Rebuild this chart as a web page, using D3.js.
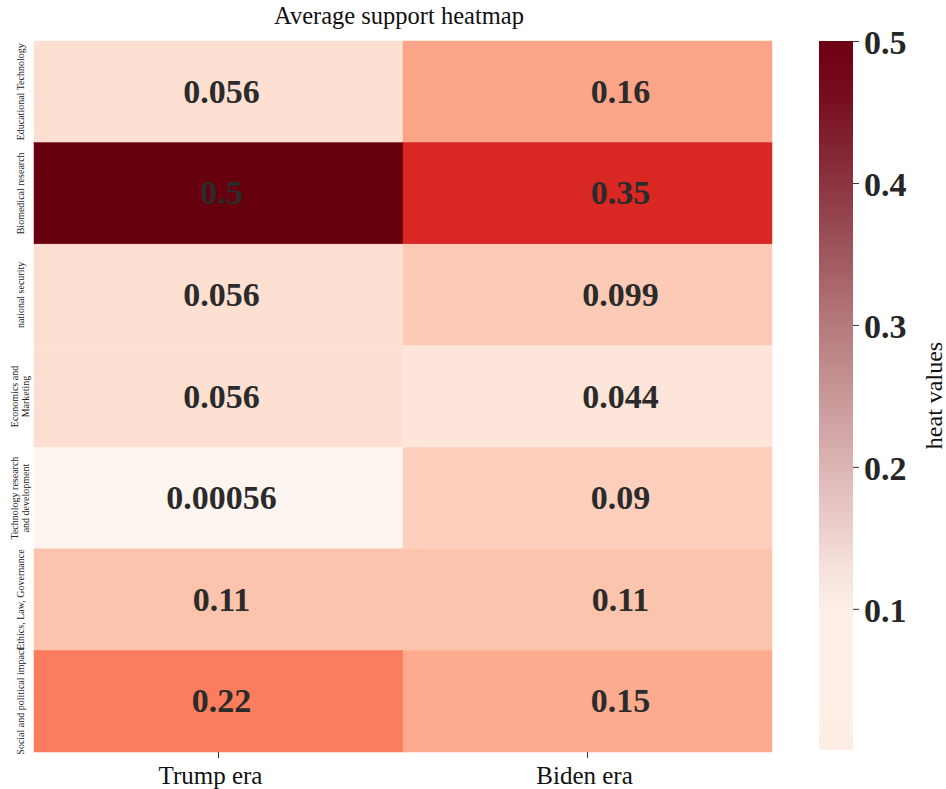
<!DOCTYPE html>
<html lang="en">
<head>
  <meta charset="UTF-8">
  <title>Average support heatmap</title>
  <script src="https://d3js.org/d3.v7.min.js"></script>
  <style>
    body { margin: 0; background: #fff; }
    svg text { font-family: "Liberation Serif", "Times New Roman", serif; }
  </style>
</head>
<body>
  <div id="chart"></div>
  <script>
    const rows = [
      "Educational Technology",
      "Biomedical research",
      "national security",
      "Economics and Marketing",
      "Technology research and development",
      "Ethics, Law, Governance",
      "Social and political impact"
    ];
    // how each row label is wrapped into lines
    const rowLines = [
      ["Educational Technology"],
      ["Biomedical research"],
      ["national security"],
      ["Economics and", "Marketing"],
      ["Technology research", "and development"],
      ["Ethics, Law, Governance"],
      ["Social and political impact"]
    ];
    const eras = ["Trump era", "Biden era"];
    const trump = [0.056, 0.5, 0.056, 0.056, 0.00056, 0.11, 0.22];
    const biden = [0.16, 0.35, 0.099, 0.044, 0.09, 0.11, 0.15];
    const labelsTrump = ["0.056", "0.5", "0.056", "0.056", "0.00056", "0.11", "0.22"];
    const labelsBiden = ["0.16", "0.35", "0.099", "0.044", "0.09", "0.11", "0.15"];
    const barTicks = [0.1, 0.2, 0.3, 0.4, 0.5];

    const width = 946, height = 789;
    const margin = { top: 41, left: 34, right: 174, bottom: 37 };
    // the annotations sit a bit right of the column centres in the original
    const annShift = { "Trump era": 3, "Biden era": 33 };
    const labShift = { "Trump era": -8, "Biden era": -3 };

    const cells = [];
    rows.forEach((r, i) => {
      cells.push({ row: r, era: eras[0], v: trump[i], label: labelsTrump[i] });
      cells.push({ row: r, era: eras[1], v: biden[i], label: labelsBiden[i] });
    });
    const vmin = d3.min(cells, d => d.v), vmax = d3.max(cells, d => d.v);

    const svg = d3.select("#chart").append("svg")
      .attr("width", width).attr("height", height);

    const x = d3.scaleBand().domain(eras).range([margin.left, width - margin.right]);
    const y = d3.scaleBand().domain(rows).range([margin.top, height - margin.bottom]);
    const color = d3.scaleSequential(d3.interpolateReds).domain([vmin, vmax]);

    svg.selectAll("rect.cell")
      .data(cells)
      .enter()
      .append("rect")
      .attr("class", "cell")
      .attr("x", d => x(d.era))
      .attr("y", d => y(d.row))
      .attr("width", x.bandwidth())
      .attr("height", y.bandwidth())
      .attr("fill", d => color(d.v))
      .attr("stroke", d => color(d.v))
      .attr("stroke-width", 0.5);

    svg.selectAll("text.val")
      .data(cells)
      .enter()
      .append("text")
      .attr("class", "val")
      .attr("x", d => x(d.era) + x.bandwidth() / 2 + annShift[d.era])
      .attr("y", d => y(d.row) + y.bandwidth() / 2 + 11)
      .attr("text-anchor", "middle")
      .attr("font-size", "34px")
      .attr("font-weight", "bold")
      .style("fill", "#2b2b2b")
      .text(d => d.label);

    // x axis
    const xAxis = svg.append("g")
      .attr("transform", `translate(0, ${height - margin.bottom})`)
      .call(d3.axisBottom(x).tickSize(6).tickPadding(0));
    xAxis.select(".domain").remove();
    xAxis.selectAll("line").attr("stroke", "#333");
    xAxis.selectAll("text")
      .attr("font-size", "25px")
      .attr("dy", null)
      .attr("y", 32)
      .attr("x", d => labShift[d])
      .style("fill", "#111");

    // y axis labels (rotated)
    rows.forEach((r, i) => {
      const lines = rowLines[i];
      const cy = y(r) + y.bandwidth() / 2;
      const t = svg.append("text")
        .attr("transform", `translate(${lines.length > 1 ? 18 : 24}, ${cy}) rotate(-90)`)
        .attr("text-anchor", "middle")
        .attr("font-size", "10px")
        .style("fill", "#222");
      lines.forEach((l, j) => {
        t.append("tspan").attr("x", 0).attr("dy", j === 0 ? 0 : 10.5).text(l);
      });
    });

    // title
    svg.append("text")
      .attr("x", (margin.left + width - margin.right) / 2 - 4)
      .attr("y", 24)
      .attr("text-anchor", "middle")
      .attr("font-size", "24.5px")
      .style("fill", "#111")
      .text("Average support heatmap");

    // colorbar
    const cbX = 819, cbW = 34;
    const cbY = d3.scaleLinear().domain([vmin, vmax]).range([750, margin.top]);
    const cbStops = [
      [0, "#fdeee5"], [0.2, "#fdefe8"], [0.26, "#f5e0dc"], [0.4, "#dcb4b4"],
      [0.6, "#b47a7c"], [0.8, "#8b3441"], [0.92, "#770d1d"], [1, "#6e0013"]
    ];
    const grad = svg.append("defs").append("linearGradient")
      .attr("id", "cb").attr("x1", 0).attr("y1", 1).attr("x2", 0).attr("y2", 0);
    cbStops.forEach(s => grad.append("stop").attr("offset", s[0]).attr("stop-color", s[1]));
    svg.append("rect")
      .attr("x", cbX).attr("y", cbY(vmax))
      .attr("width", cbW).attr("height", cbY(vmin) - cbY(vmax))
      .attr("fill", "url(#cb)");

    const cbAxis = svg.append("g")
      .attr("transform", `translate(${cbX + cbW}, 0)`)
      .call(d3.axisRight(cbY).tickValues(barTicks).tickFormat(d3.format(".1f")).tickSize(6).tickPadding(5));
    cbAxis.select(".domain").remove();
    cbAxis.selectAll("line").attr("stroke", "#333");
    cbAxis.selectAll("text")
      .attr("font-size", "34px")
      .attr("font-weight", "bold")
      .attr("dy", "0.36em")
      .style("fill", "#262626");

    svg.append("text")
      .attr("transform", `translate(942, ${(cbY(vmin) + cbY(vmax)) / 2}) rotate(-90)`)
      .attr("text-anchor", "middle")
      .attr("font-size", "24px")
      .style("fill", "#111")
      .text("heat values");
  </script>
</body>
</html>
